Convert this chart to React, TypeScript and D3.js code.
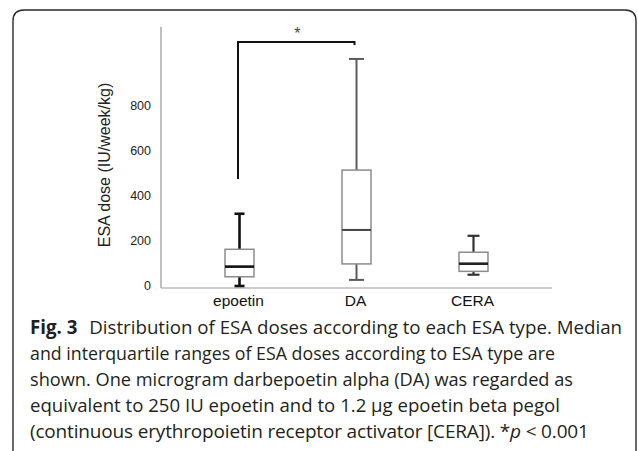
import React from "react";
import * as d3 from "d3";

// ---- data ----
const categories = ["epoetin", "DA", "CERA"];
const whiskerLow = [9, 36, 59];
const q1 = [50, 107, 74];
const median = [95, 258, 108];
const q3 = [172, 524, 159];
const whiskerHigh = [330, 1018, 232];
const yTicks = [0, 200, 400, 600, 800];
const bracketPair = ["epoetin", "DA"];
const bracketLevels = [484, 1093, 1080]; // left leg bottom, top, right leg bottom
const bracketLabel = "*";
const yTitle = "ESA dose (IU/week/kg)";
const captionBold = "Fig. 3";
const captionLines = [
  "Distribution of ESA doses according to each ESA type. Median",
  "and interquartile ranges of ESA doses according to ESA type are",
  "shown. One microgram darbepoetin alpha (DA) was regarded as",
  "equivalent to 250 IU epoetin and to 1.2 µg epoetin beta pegol",
  "(continuous erythropoietin receptor activator [CERA]). *",
];

// ---- styles ----
const whiskerColor = ["#111", "#5a5a5a", "#333"];
const whiskerWidth = [2.6, 2, 2.2];
const medianColor = ["#111", "#444", "#222"];
const medianWidth = [2.6, 2, 2.6];
const capWidth = [10, 15, 12];
const captionLineWidths = [592, 525, 543, 530, 0];

const W = 638;
const H = 451;

export default function App() {
  const x = d3
    .scalePoint<string>()
    .domain(categories)
    .range([161, 552])
    .padding(0.671);
  const y = d3.scaleLinear().domain([0, 1160]).range([288, 27]);

  const boxW = 29;
  const capFont = "'Open Sans', sans-serif";
  const chartFont = "'Liberation Sans', Arial, sans-serif";

  const bx1 = x(bracketPair[0])! - 1.5;
  const bx2 = x(bracketPair[1])! - 2;

  const border = `M13,${H + 2} L13,21 Q13,10 24,10 L625,10 Q636,10 636,21 L636,${H + 2}`;

  return (
    <svg
      width={W}
      height={H}
      style={{ position: "absolute", left: 0, top: 0, background: "#fff" }}
    >
      <rect x={0} y={0} width={W} height={H} fill="#fff" />
      <path d={border} fill="none" stroke="#2a2a2a" strokeWidth={1.4} />

      {/* axes */}
      <line x1={161} x2={161} y1={y(1160)} y2={y(0)} stroke="#aaa" strokeWidth={1.5} />
      <line x1={161} x2={552} y1={y(0)} y2={y(0)} stroke="#bbb" strokeWidth={1.5} />

      {yTicks.map((t) => (
        <text
          key={t}
          x={151}
          y={y(t) - 2}
          dy="0.35em"
          textAnchor="end"
          fontFamily={chartFont}
          fontSize={12.5}
          fill="#222"
        >
          {t}
        </text>
      ))}

      <text
        transform={`translate(110,165) rotate(-90)`}
        textAnchor="middle"
        fontFamily={chartFont}
        fontSize={16}
        fill="#222"
      >
        {yTitle}
      </text>

      {categories.map((c) => (
        <text
          key={c}
          x={x(c)! - 1}
          y={306}
          textAnchor="middle"
          fontFamily={chartFont}
          fontSize={15.5}
          fill="#111"
        >
          {c}
        </text>
      ))}

      {/* boxes */}
      {categories.map((c, i) => {
        const cx = x(c)!;
        return (
          <g key={c}>
            <line x1={cx} x2={cx} y1={y(whiskerHigh[i])} y2={y(q3[i])} stroke={whiskerColor[i]} strokeWidth={whiskerWidth[i]} />
            <line x1={cx} x2={cx} y1={y(q1[i])} y2={y(whiskerLow[i])} stroke={whiskerColor[i]} strokeWidth={whiskerWidth[i]} />
            <line x1={cx - capWidth[i] / 2} x2={cx + capWidth[i] / 2} y1={y(whiskerHigh[i])} y2={y(whiskerHigh[i])} stroke={whiskerColor[i]} strokeWidth={whiskerWidth[i]} />
            <line x1={cx - capWidth[i] / 2} x2={cx + capWidth[i] / 2} y1={y(whiskerLow[i])} y2={y(whiskerLow[i])} stroke={whiskerColor[i]} strokeWidth={whiskerWidth[i]} />
            <rect
              x={cx - boxW / 2}
              y={y(q3[i])}
              width={boxW}
              height={y(q1[i]) - y(q3[i])}
              fill="#fff"
              stroke="#8c8c8c"
              strokeWidth={1.5}
            />
            <line x1={cx - boxW / 2} x2={cx + boxW / 2} y1={y(median[i])} y2={y(median[i])} stroke={medianColor[i]} strokeWidth={medianWidth[i]} />
          </g>
        );
      })}

      {/* significance bracket */}
      <path
        d={`M${bx1},${y(bracketLevels[0])} L${bx1},${y(bracketLevels[1])} L${bx2},${y(bracketLevels[1])} L${bx2},${y(bracketLevels[2])}`}
        fill="none"
        stroke="#111"
        strokeWidth={2}
      />
      <text
        x={(bx1 + bx2) / 2 + 1}
        y={y(bracketLevels[1]) - 3}
        textAnchor="middle"
        fontFamily={chartFont}
        fontSize={16}
        fill="#444"
      >
        {bracketLabel}
      </text>

      {/* caption */}
      <g fontFamily={capFont} fontSize={19} fill="#231f20">
        <text x={30} y={334} textLength={captionLineWidths[0]} lengthAdjust="spacingAndGlyphs">
          <tspan fontWeight="bold">{captionBold}</tspan>
          <tspan dx={12}>{captionLines[0]}</tspan>
        </text>
        {captionLines.slice(1).map((l, i) => {
          const tl = captionLineWidths[i + 1];
          return (
            <text
              key={i}
              x={30}
              y={360 + i * 26}
              {...(tl > 0
                ? { textLength: tl, lengthAdjust: "spacingAndGlyphs" }
                : { letterSpacing: -0.17 })}
            >
              {l}
              {i === 3 ? (
                <>
                  <tspan fontStyle="italic">p</tspan>
                  <tspan> &lt; 0.001</tspan>
                </>
              ) : null}
            </text>
          );
        })}
      </g>
    </svg>
  );
}
